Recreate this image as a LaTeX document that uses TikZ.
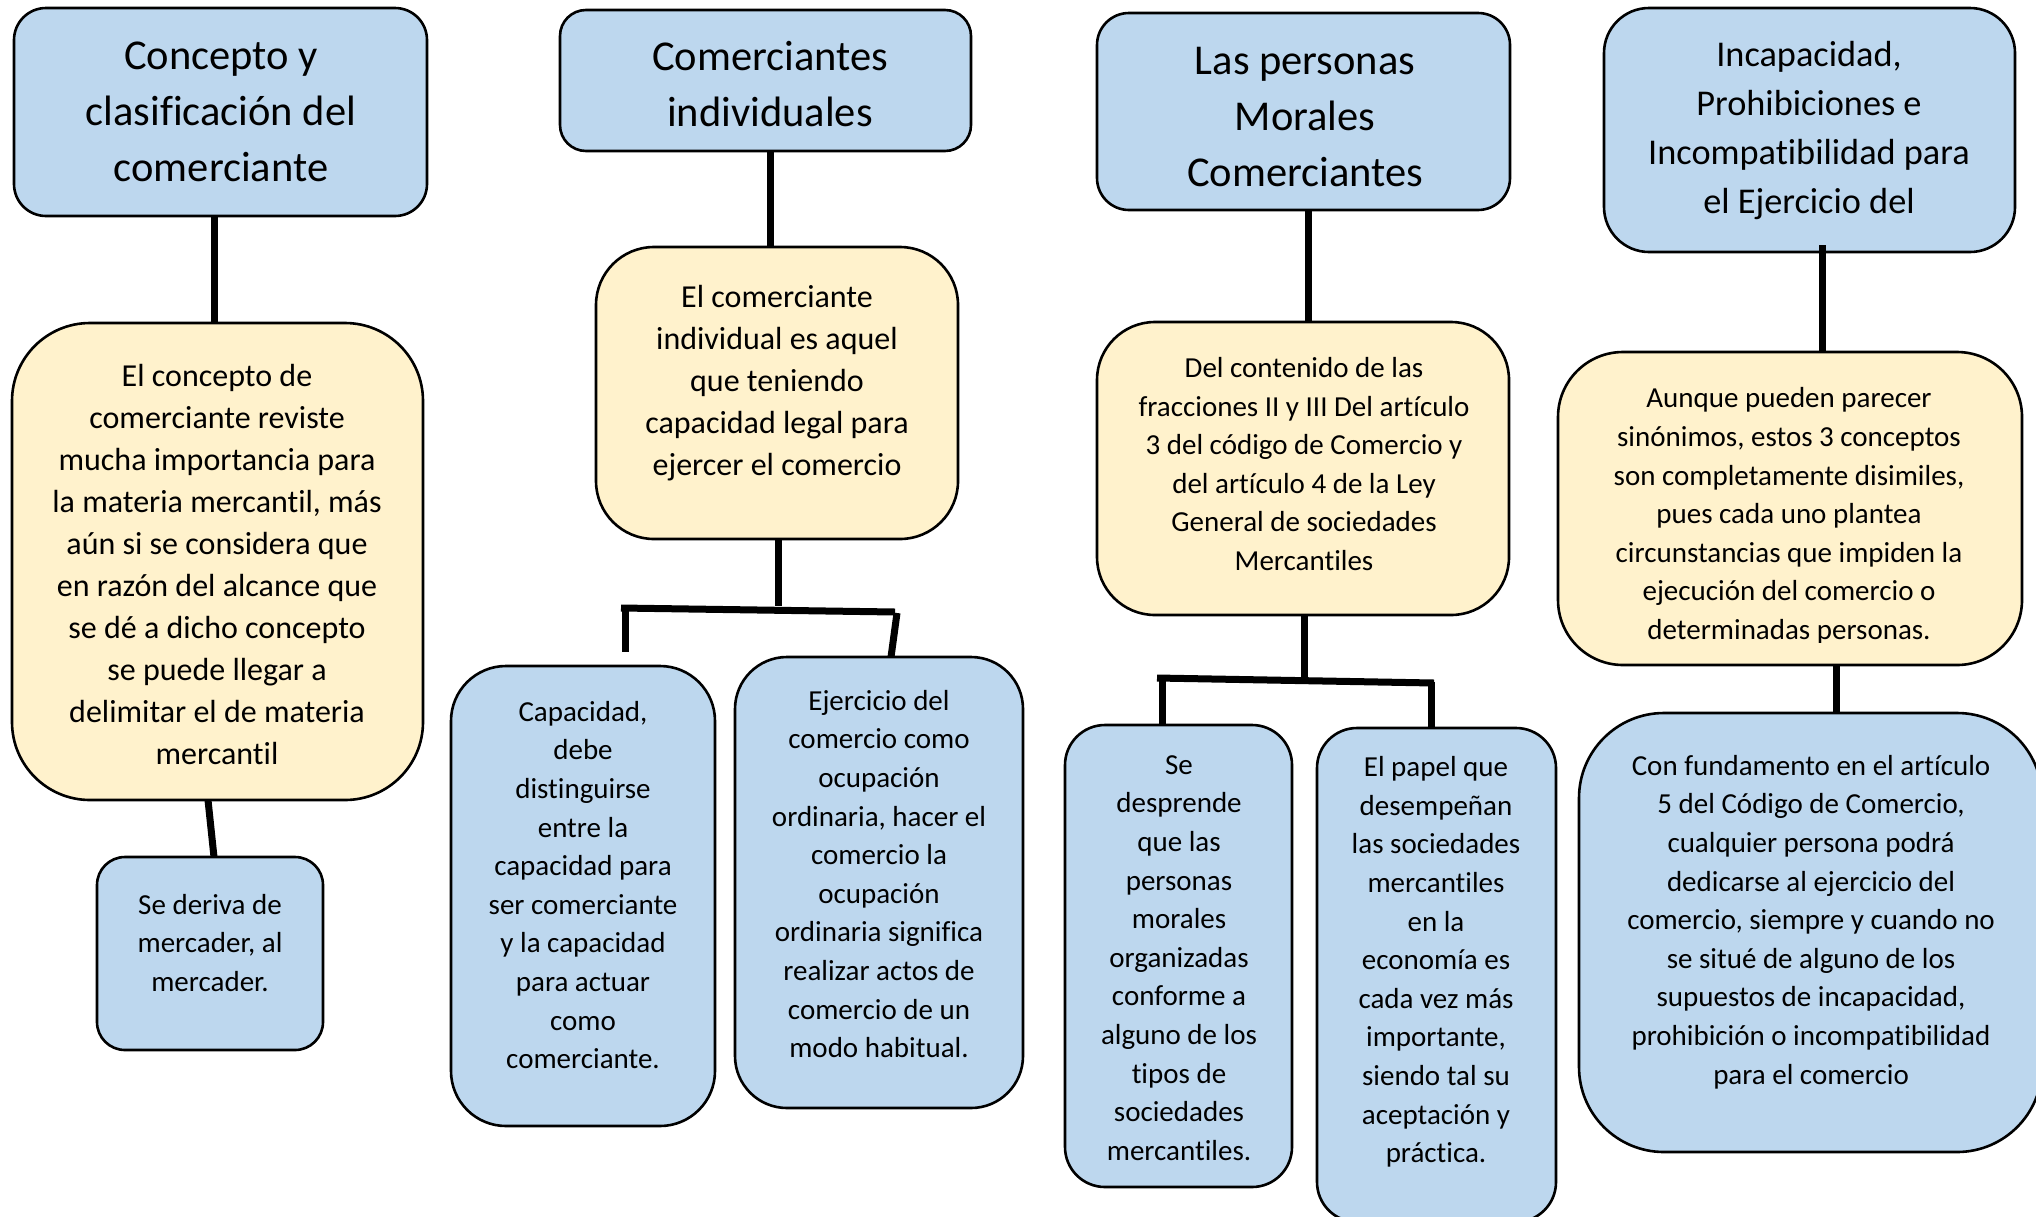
\documentclass[tikz,border=0pt]{standalone}
\usepackage{fontspec}
\setmainfont[Ligatures={NoCommon}]{Carlito}
\usetikzlibrary{fit}
\definecolor{boxblue}{HTML}{BDD7EE}
\definecolor{boxyellow}{HTML}{FFF2CC}
\tikzset{
  bx/.style={draw=black, line width=2.6pt, inner sep=0pt, outer sep=0pt},
  bluebox/.style={bx, fill=boxblue},
  yellowbox/.style={bx, fill=boxyellow},
  txt/.style={align=center, inner sep=0pt, text=black},
  big/.style={txt, font=\fontsize{42.5}{56}\selectfont},
  mid/.style={txt, font=\fontsize{36.3}{49}\selectfont},
  bodyl/.style={txt, font=\fontsize{32}{42}\selectfont},
  body/.style={txt, font=\fontsize{29}{38.6}\selectfont},
  conn/.style={line width=7pt, draw=black},
}
\begin{document}
\begin{tikzpicture}[x=1pt, y=-1pt]
\useasboundingbox (0,0) rectangle (2036,1216);
\clip (0,0) rectangle (2036,1216);
\fill[white] (0,0) rectangle (2036,1216);

% ---------- column 1
\node[bluebox, rounded corners=32pt, fit={(14,8) (427,216)}] (A) {};
\node[yellowbox, rounded corners=78pt, fit={(12,323) (423,800)}] (B) {};
\node[bluebox, rounded corners=28pt, fit={(97,857) (323,1050)}] (C) {};
\node[big] (tA) at (221,112) {Concepto y\\clasificación del\\comerciante};
\node[bodyl] (tB) at (217,564) {El concepto de\\comerciante reviste\\mucha importancia para\\la materia mercantil, más\\aún si se considera que\\en razón del alcance que\\se dé a dicho concepto\\se puede llegar a\\delimitar el de materia\\mercantil};
\node[body] (tC) at (210,943) {Se deriva de\\mercader, al\\mercader.};
\draw[conn] (214,0 |- A.south) -- (214,0 |- B.north);
\draw[conn] (208,0 |- B.south) -- (214,0 |- C.north);

% ---------- column 2
\node[bluebox, rounded corners=26pt, fit={(560,10) (971,151)}] (D) {};
\node[yellowbox, rounded corners=58pt, fit={(596,247) (958,539)}] (E) {};
\node[bluebox, rounded corners=55pt, fit={(451,666) (715,1126)}] (F) {};
\node[bluebox, rounded corners=52pt, fit={(735,657) (1023,1108)}] (G) {};
\node[big] (tD) at (770,84) {Comerciantes\\individuales};
\node[bodyl] (tE) at (777,383) {El comerciante\\individual es aquel\\que teniendo\\capacidad legal para\\ejercer el comercio};
\node[body] (tF) at (583,885) {Capacidad,\\debe\\distinguirse\\entre la\\capacidad para\\ser comerciante\\y la capacidad\\para actuar\\como\\comerciante.};
\node[body] (tG) at (879,874) {Ejercicio del\\comercio como\\ocupación\\ordinaria, hacer el\\comercio la\\ocupación\\ordinaria significa\\realizar actos de\\comercio de un\\modo habitual.};
\coordinate (e1) at (778,606);
\coordinate (eL) at (621,608);
\coordinate (eR) at (895,612);
\coordinate (fL) at (625,608);
\coordinate (gR) at (897,613);
\draw[conn] (770,0 |- D.south) -- (770,0 |- E.north);
\draw[conn] (778,0 |- E.south) -- (e1);
\draw[conn] (eL) -- (eR);
\draw[conn, shorten >=14pt] (fL) -- (625,0 |- F.north);
\draw[conn] (gR) -- (891,0 |- G.north);

% ---------- column 3
\node[bluebox, rounded corners=32pt, fit={(1097,13) (1510,210)}] (H) {};
\node[yellowbox, rounded corners=58pt, fit={(1097,322) (1509,615)}] (I) {};
\node[bluebox, rounded corners=40pt, fit={(1065,725) (1292,1187)}] (J) {};
\node[bluebox, rounded corners=40pt, fit={(1317,728) (1556,1222)}] (K) {};
\node[big] (tH) at (1305,117) {Las personas\\Morales\\Comerciantes};
\node[body] (tI) at (1304,464) {Del contenido de las\\fracciones II y III Del artículo\\3 del código de Comercio y\\del artículo 4 de la Ley\\General de sociedades\\Mercantiles};
\node[body] (tJ) at (1179,958) {Se\\desprende\\que las\\personas\\morales\\organizadas\\conforme a\\alguno de los\\tipos de\\sociedades\\mercantiles.};
\node[body] (tK) at (1436,962) {El papel que\\desempeñan\\las sociedades\\mercantiles\\en la\\economía es\\cada vez más\\importante,\\siendo tal su\\aceptación y\\práctica.};
\coordinate (i1) at (1304,680);
\coordinate (iL) at (1157,678);
\coordinate (iR) at (1434,683);
\coordinate (jL) at (1162,678);
\coordinate (kR) at (1431,682);
\draw[conn] (1308,0 |- H.south) -- (1308,0 |- I.north);
\draw[conn] (1304,0 |- I.south) -- (i1);
\draw[conn] (iL) -- (iR);
\draw[conn] (jL) -- (1162,0 |- J.north);
\draw[conn] (kR) -- (1431,0 |- K.north);

% ---------- column 4
\node[bluebox, rounded corners=45pt, fit={(1604,8) (2015,252)}] (L) {};
\node[yellowbox, rounded corners=65pt, fit={(1558,352) (2022,665)}] (M) {};
\node[bluebox, rounded corners=85pt, fit={(1579,713) (2042,1152)}] (N) {};
\node[mid] (tL) at (1809,131) {Incapacidad,\\Prohibiciones e\\Incompatibilidad para\\el Ejercicio del};
\begin{scope}
\clip (1560,354) rectangle (2020,642);
\node[body] (tM) at (1789,516) {Aunque pueden parecer\\sinónimos, estos 3 conceptos\\son completamente disimiles,\\pues cada uno plantea\\circunstancias que impiden la\\ejecución del comercio o\\determinadas personas.};
\end{scope}
\node[body] (tN) at (1811,922) {Con fundamento en el artículo\\5 del Código de Comercio,\\cualquier persona podrá\\dedicarse al ejercicio del\\comercio, siempre y cuando no\\se situé de alguno de los\\supuestos de incapacidad,\\prohibición o incompatibilidad\\para el comercio};
\coordinate (l1) at (1822,245);
\draw[conn] (l1) -- (1822,0 |- M.north);
\draw[conn] (1836,0 |- M.south) -- (1836,0 |- N.north);
\end{tikzpicture}
\end{document}
